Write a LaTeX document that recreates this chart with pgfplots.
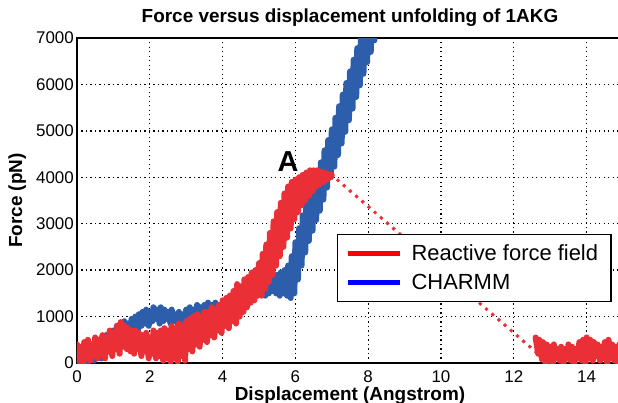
\documentclass[border=0pt]{standalone}
\usepackage{pgfplots}
\pgfplotsset{compat=1.18}
\usepackage{fontspec}
\setmainfont{Liberation Sans}
\definecolor{dred}{RGB}{234,48,54}
\definecolor{dblue}{RGB}{44,94,172}
\begin{document}
\begin{tikzpicture}
\begin{axis}[
  scale only axis, width=546bp, height=325bp,
  xmin=0, xmax=15, ymin=0, ymax=7000,
  xtick={0,2,...,14}, ytick={0,1000,...,7000},
  grid=major,
  grid style={black, line width=1.3bp, dash pattern=on 1.3bp off 3.2bp},
  axis line style={black, line width=1.3bp},
  tick style={draw=none},
  /pgf/number format/assume math mode=true,
  /pgf/number format/set thousands separator={},
  ticklabel style={font=\fontsize{17}{19}\selectfont},
  xticklabel style={anchor=base, inner sep=0pt, yshift=-19bp},
  yticklabel style={inner sep=0pt, xshift=-3bp},
  title={Force versus displacement unfolding of 1AKG},
  title style={font=\bfseries\fontsize{19}{22}\selectfont, inner sep=0pt, at={(axis description cs:0.5,1)}, anchor=base, yshift=9.5bp},
  xlabel={Displacement (Angstrom)},
  xlabel style={font=\bfseries\fontsize{19}{22}\selectfont, inner sep=0pt, at={(axis description cs:0.5,0)}, anchor=base, yshift=-37bp},
  ylabel={Force (pN)},
  ylabel style={font=\bfseries\fontsize{19}{22}\selectfont, inner sep=0pt, at={(axis description cs:-0.1007,0.5)}, anchor=base},
  legend style={at={(axis description cs:0.4762,0.3969)}, anchor=north west, draw=black, line width=1.3bp,
    font=\fontsize{22}{26}\selectfont, inner xsep=8bp, inner ysep=8bp, row sep=8.5bp, column sep=4bp,
    nodes={inner xsep=5bp, inner ysep=2bp}, fill=white},
  legend cell align=left,
  legend image code/.code={\draw[line width=5bp] (0bp,0bp) -- (52bp,0bp);},
]
\coordinate (O) at (axis cs:0,0);
% CHARMM (blue)
\addplot[dblue, line width=6bp, line join=round, line cap=round, forget plot] coordinates {
(0.0,250) (0.07,0) (0.1,300) (0.17,50) (0.2,350) (0.27,0) (0.3,300) (0.37,100)
(0.4,400) (0.47,50) (0.5,450) (0.57,150) (0.6,500) (0.67,100) (0.7,550) (0.77,200)
(0.8,600) (0.87,250) (0.9,650) (0.97,300) (1.0,700) (1.07,400) (1.1,800) (1.17,500)
(1.2,850) (1.27,600) (1.3,900) (1.37,650) (1.4,850) (1.47,700) (1.5,950) (1.57,750)
(1.6,1000) (1.67,700) (1.7,1050) (1.77,800) (1.8,1100) (1.87,850) (1.9,1150) (1.97,800)
(2.0,1100) (2.07,900) (2.1,1200) (2.17,950) (2.2,1150) (2.27,850) (2.3,1200) (2.37,900)
(2.4,1150) (2.47,950) (2.5,1100) (2.57,850) (2.6,1150) (2.67,900) (2.7,1050) (2.77,850)
(2.8,1100) (2.87,800) (2.9,1050) (2.97,900) (3.0,1150) (3.07,850) (3.1,1200) (3.17,900)
(3.2,1150) (3.27,950) (3.3,1250) (3.37,1000) (3.4,1200) (3.47,950) (3.5,1250) (3.57,1050)
(3.6,1300) (3.67,1000) (3.7,1250) (3.77,1050) (3.8,1300) (3.87,1100) (3.9,1250) (3.97,1000)
(4.0,1300) (4.07,1050) (4.1,1350) (4.17,1100) (4.2,1400) (4.27,1150) (4.3,1450) (4.37,1200)
(4.4,1500) (4.47,1250) (4.5,1600) (4.57,1300) (4.6,1650) (4.67,1350) (4.7,1700) (4.77,1400)
(4.8,1750) (4.87,1450) (4.9,1800) (4.97,1500) (5.0,1750) (5.07,1500) (5.1,1800) (5.17,1450)
(5.2,1850) (5.27,1500) (5.3,1900) (5.37,1550) (5.4,1850) (5.47,1500) (5.5,1900) (5.57,1450)
(5.6,1950) (5.67,1500) (5.7,2000) (5.77,1450) (5.8,2100) (5.87,1400) (5.9,2300) (5.97,1500)
(6.0,2600) (6.07,1800) (6.1,2900) (6.17,2100) (6.2,3180) (6.27,2380) (6.3,3430) (6.37,2630)
(6.4,3650) (6.47,2850) (6.5,3880) (6.57,3080) (6.6,4080) (6.67,3280) (6.7,4320) (6.77,3520)
(6.8,4580) (6.87,3780) (6.9,4800) (6.97,4000) (7.0,5030) (7.07,4230) (7.1,5280) (7.17,4480)
(7.2,5530) (7.27,4730) (7.3,5780) (7.37,4980) (7.4,6030) (7.47,5230) (7.5,6280) (7.57,5480)
(7.6,6530) (7.67,5730) (7.7,6780) (7.77,5980) (7.8,7030) (7.87,6230) (7.9,7280) (7.97,6480)
(8.0,7500) (8.07,6700) (8.1,7600) (8.17,6950) (8.2,7700) (8.27,7100)
};
% Reactive force field (red), noisy part
\addplot[dred, line width=6bp, line join=round, line cap=round, forget plot] coordinates {
(0.0,400) (0.07,50) (0.1,350) (0.17,0) (0.2,450) (0.27,100) (0.3,500) (0.37,50)
(0.4,400) (0.47,150) (0.5,550) (0.57,100) (0.6,500) (0.67,200) (0.7,600) (0.77,100)
(0.8,550) (0.87,250) (0.9,700) (0.97,150) (1.0,650) (1.07,300) (1.1,800) (1.17,200)
(1.2,880) (1.27,350) (1.3,800) (1.37,300) (1.4,750) (1.47,250) (1.5,700) (1.57,200)
(1.6,700) (1.67,300) (1.7,650) (1.77,150) (1.8,600) (1.87,250) (1.9,650) (1.97,100)
(2.0,550) (2.07,200) (2.1,700) (2.17,100) (2.2,650) (2.27,150) (2.3,700) (2.37,50)
(2.4,750) (2.47,100) (2.5,700) (2.57,30) (2.6,800) (2.67,100) (2.7,750) (2.77,30)
(2.8,850) (2.87,150) (2.9,800) (2.97,50) (3.0,900) (3.07,300) (3.1,950) (3.17,250)
(3.2,1000) (3.27,400) (3.3,1050) (3.37,350) (3.4,1000) (3.47,500) (3.5,1100) (3.57,450)
(3.6,1100) (3.67,600) (3.7,1200) (3.77,550) (3.8,1150) (3.87,700) (3.9,1250) (3.97,650)
(4.0,1350) (4.07,800) (4.1,1400) (4.17,750) (4.2,1450) (4.27,900) (4.3,1550) (4.37,850)
(4.4,1700) (4.47,1000) (4.5,1650) (4.57,1100) (4.6,1800) (4.67,1200) (4.7,1850) (4.77,1300)
(4.8,1950) (4.87,1350) (4.9,2000) (4.97,1450) (5.0,2150) (5.07,1450) (5.1,2350) (5.17,1600)
(5.2,2550) (5.27,1750) (5.3,2800) (5.37,1900) (5.4,3050) (5.47,2100) (5.5,3250) (5.57,2300)
(5.6,3450) (5.67,2500) (5.7,3650) (5.77,2700) (5.8,3800) (5.87,2900) (5.9,3900) (5.97,3100)
(6.0,3950) (6.07,3250) (6.1,4000) (6.17,3400) (6.2,4050) (6.27,3500) (6.3,4100) (6.37,3600)
(6.4,4150) (6.47,3700) (6.5,4150) (6.57,3800) (6.6,4150) (6.67,3850) (6.7,4120) (6.77,3900)
(6.8,4100) (6.87,3950) (6.9,4080) (6.97,4000) (7.0,4050)
};
% red, dotted descent
\addplot[dred, only marks, mark=*, mark size=1.8bp, forget plot] coordinates {
(7.00,4050) (7.17,3934) (7.34,3819) (7.51,3703) (7.68,3588) (7.85,3472) (8.02,3356)
(8.19,3241) (8.36,3125) (8.53,3010) (8.70,2894) (8.87,2778) (9.04,2663) (9.21,2547)
(9.38,2432) (9.55,2316) (9.72,2200) (9.89,2085) (10.06,1969) (10.23,1854) (10.40,1738)
(10.57,1622) (10.74,1507) (10.91,1391) (11.08,1276) (11.25,1160) (11.42,1044) (11.59,929)
(11.76,813) (11.93,698) (12.10,582) (12.27,466) (12.44,351) (12.61,235) (12.75,60)
};
% red, noisy tail
\addplot[dred, line width=6bp, line join=round, line cap=round, forget plot] coordinates {
(12.6,550) (12.67,200) (12.7,500) (12.77,100) (12.8,450) (12.87,0) (12.9,400) (12.97,50)
(13.0,350) (13.07,0) (13.1,400) (13.17,100) (13.2,300) (13.27,50) (13.3,350) (13.37,0)
(13.4,300) (13.47,100) (13.5,400) (13.57,50) (13.6,350) (13.67,0) (13.7,300) (13.77,100)
(13.8,450) (13.87,50) (13.9,500) (13.97,0) (14.0,550) (14.07,100) (14.1,500) (14.17,50)
(14.2,450) (14.27,150) (14.3,400) (14.37,50) (14.4,350) (14.47,100) (14.5,450) (14.57,0)
(14.6,500) (14.67,100) (14.7,400) (14.77,50) (14.8,350) (14.87,0) (14.9,400) (14.97,100)
(15.0,350) (15.07,50)
};
\addlegendimage{red}
\addlegendentry{Reactive force field}
\addlegendimage{blue}
\addlegendentry{CHARMM}
\node[font=\bfseries\fontsize{29}{31}\selectfont] at (axis cs:5.8,4330) {A};
\end{axis}
\pgfresetboundingbox
\useasboundingbox ([shift={(-77bp,-40bp)}]O) rectangle ([shift={(541bp,363bp)}]O);
\end{tikzpicture}
\end{document}
